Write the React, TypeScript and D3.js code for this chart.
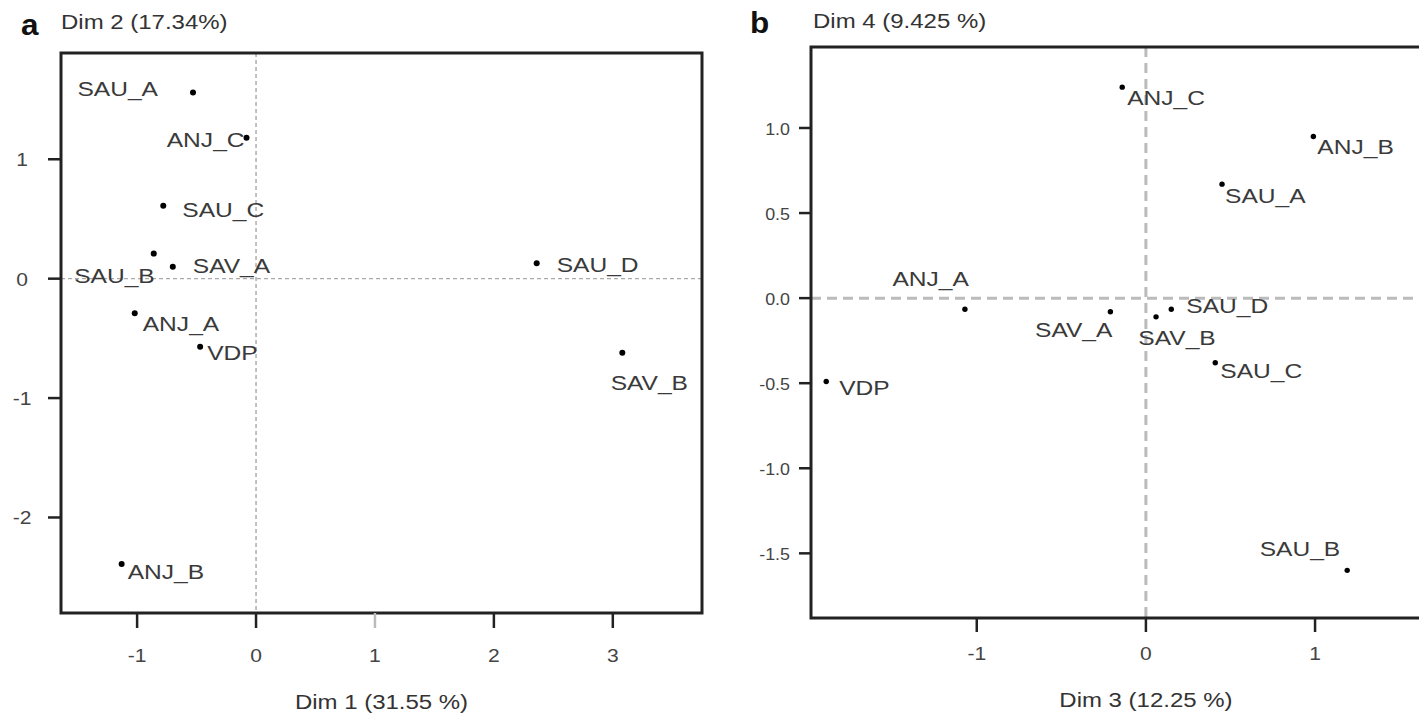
import React from "react";
import * as d3 from "d3";

// ---------- data ----------
const labelsA = ["SAU_A", "ANJ_C", "SAU_C", "SAU_B", "SAV_A", "ANJ_A", "VDP", "ANJ_B", "SAU_D", "SAV_B"];
const dim1 = [-0.53, -0.08, -0.78, -0.86, -0.7, -1.02, -0.47, -1.13, 2.36, 3.08];
const dim2 = [1.56, 1.18, 0.61, 0.21, 0.1, -0.29, -0.57, -2.39, 0.13, -0.62];

const labelsB = ["ANJ_C", "ANJ_B", "SAU_A", "SAU_D", "SAV_B", "SAV_A", "ANJ_A", "VDP", "SAU_C", "SAU_B"];
const dim3 = [-0.14, 0.99, 0.45, 0.15, 0.06, -0.21, -1.07, -1.89, 0.41, 1.19];
const dim4 = [1.24, 0.95, 0.67, -0.065, -0.11, -0.08, -0.065, -0.49, -0.38, -1.6];

const ticksAx = [-1, 0, 1, 2, 3];
const ticksAy = [1, 0, -1, -2];
const ticksBx = [-1, 0, 1];
const ticksBy = [1.0, 0.5, 0.0, -0.5, -1.0, -1.5];

// label placement (offset from the point, text anchor)
type Place = { dx: number; dy: number; anchor: "start" | "middle" | "end" };
const placeA: Place[] = [
  { dx: -35, dy: -4, anchor: "end" },
  { dx: -2, dy: 2, anchor: "end" },
  { dx: 19, dy: 4, anchor: "start" },
  { dx: 1, dy: 22, anchor: "end" },
  { dx: 20, dy: -1, anchor: "start" },
  { dx: 8, dy: 10, anchor: "start" },
  { dx: 7, dy: 6, anchor: "start" },
  { dx: 6, dy: 7, anchor: "start" },
  { dx: 20, dy: 1, anchor: "start" },
  { dx: 27, dy: 30, anchor: "middle" },
];
const placeB: Place[] = [
  { dx: 5, dy: 10, anchor: "start" },
  { dx: 4, dy: 10, anchor: "start" },
  { dx: 3, dy: 11, anchor: "start" },
  { dx: 15, dy: -4, anchor: "start" },
  { dx: 21, dy: 21, anchor: "middle" },
  { dx: 2, dy: 18, anchor: "end" },
  { dx: 4, dy: -31, anchor: "end" },
  { dx: 13, dy: 6, anchor: "start" },
  { dx: 5, dy: 8, anchor: "start" },
  { dx: -7, dy: -22, anchor: "end" },
];

const FONT = "'Liberation Sans', Arial, Helvetica, sans-serif";
const SX = 1.17;

function T(props: {
  x: number;
  y: number;
  size: number;
  anchor?: "start" | "middle" | "end";
  fill?: string;
  bold?: boolean;
  sx?: number;
  children: React.ReactNode;
}) {
  const { x, y, size, anchor = "start", fill = "#333", bold = false, sx = SX } = props;
  return (
    <g transform={`translate(${x},${y}) scale(${sx},1)`}>
      <text
        x={0}
        y={0}
        fontSize={size}
        fontFamily={FONT}
        fontWeight={bold ? "bold" : "normal"}
        textAnchor={anchor}
        fill={fill}
      >
        {props.children}
      </text>
    </g>
  );
}

export default function App() {
  // Panel a scales
  const xa = d3.scaleLinear().domain([-1.64, 3.75]).range([61, 702]);
  const ya = d3.scaleLinear().domain([-2.8, 1.89]).range([613, 53]);
  // Panel b scales (right side clipped by the page)
  const xb = d3.scaleLinear().domain([-1.98, 1.65]).range([811, 1425]);
  const yb = d3.scaleLinear().domain([-1.88, 1.476]).range([618, 47]);

  const LBL = 21;
  const TICK = 18;
  const TITLE = 20.5;
  const frame = "#222";

  return (
    <svg
      width={1419}
      height={714}
      style={{ position: "absolute", left: 0, top: 0, background: "#fff" }}
    >
      <rect x={0} y={0} width={1419} height={714} fill="#fff" />

      {/* ---------------- Panel a ---------------- */}
      <g>
        <line x1={xa(0)} x2={xa(0)} y1={ya.range()[1]} y2={ya.range()[0]} stroke="#999" strokeWidth={1.2} strokeDasharray="4,3" />
        <line x1={xa.range()[0]} x2={xa.range()[1]} y1={ya(0)} y2={ya(0)} stroke="#aaa" strokeWidth={1.2} strokeDasharray="4,3" />
        <rect
          x={xa.range()[0]}
          y={ya.range()[1]}
          width={xa.range()[1] - xa.range()[0]}
          height={ya.range()[0] - ya.range()[1]}
          fill="none"
          stroke={frame}
          strokeWidth={3}
        />
        {ticksAx.map((t) => (
          <g key={"ax" + t}>
            <line x1={xa(t)} x2={xa(t)} y1={ya.range()[0]} y2={ya.range()[0] + 15} stroke={t === 1 ? "#bbb" : frame} strokeWidth={2.5} />
            <T x={xa(t)} y={662} size={TICK} anchor="middle" fill="#444">
              {String(t)}
            </T>
          </g>
        ))}
        {ticksAy.map((t) => (
          <g key={"ay" + t}>
            <line x1={xa.range()[0] - 13} x2={xa.range()[0]} y1={ya(t)} y2={ya(t)} stroke={frame} strokeWidth={2.5} />
            <T x={22} y={ya(t) + 7} size={TICK} anchor="middle" fill="#444">
              {String(t)}
            </T>
          </g>
        ))}
        {labelsA.map((l, i) => (
          <g key={"pa" + l}>
            <circle cx={xa(dim1[i])} cy={ya(dim2[i])} r={3} fill="#000" />
            <T x={xa(dim1[i]) + placeA[i].dx} y={ya(dim2[i]) + placeA[i].dy + LBL * 0.36} size={LBL} anchor={placeA[i].anchor} fill="#3a3a3a">
              {l}
            </T>
          </g>
        ))}
        <T x={21} y={35} size={30} bold fill="#111" sx={1.05}>
          a
        </T>
        <T x={61} y={29} size={TITLE} fill="#333">
          Dim 2 (17.34%)
        </T>
        <T x={(xa.range()[0] + xa.range()[1]) / 2} y={709} size={TITLE} anchor="middle" fill="#333">
          Dim 1 (31.55 %)
        </T>
      </g>

      {/* ---------------- Panel b ---------------- */}
      <g>
        <line x1={xb(0)} x2={xb(0)} y1={yb.range()[1]} y2={yb.range()[0]} stroke="#bbb" strokeWidth={3} strokeDasharray="10,6" />
        <line x1={xb.range()[0]} x2={xb.range()[1]} y1={yb(0)} y2={yb(0)} stroke="#bbb" strokeWidth={3} strokeDasharray="10,6" />
        <rect
          x={xb.range()[0]}
          y={yb.range()[1]}
          width={xb.range()[1] - xb.range()[0]}
          height={yb.range()[0] - yb.range()[1]}
          fill="none"
          stroke={frame}
          strokeWidth={3}
        />
        {ticksBx.map((t) => (
          <g key={"bx" + t}>
            <line x1={xb(t)} x2={xb(t)} y1={yb.range()[0]} y2={yb.range()[0] + 14} stroke={frame} strokeWidth={2.5} />
            <T x={xb(t)} y={660} size={TICK} anchor="middle" fill="#444">
              {String(t)}
            </T>
          </g>
        ))}
        {ticksBy.map((t) => (
          <g key={"by" + t}>
            <line x1={xb.range()[0] - 12} x2={xb.range()[0]} y1={yb(t)} y2={yb(t)} stroke={frame} strokeWidth={2.5} />
            <T x={790} y={yb(t) + 7} size={TICK - 1} anchor="end" fill="#444" sx={1.05}>
              {t.toFixed(1)}
            </T>
          </g>
        ))}
        {labelsB.map((l, i) => (
          <g key={"pb" + l}>
            <circle cx={xb(dim3[i])} cy={yb(dim4[i])} r={2.7} fill="#000" />
            <T x={xb(dim3[i]) + placeB[i].dx} y={yb(dim4[i]) + placeB[i].dy + LBL * 0.36} size={LBL} anchor={placeB[i].anchor} fill="#3a3a3a">
              {l}
            </T>
          </g>
        ))}
        <T x={750} y={33} size={30} bold fill="#111" sx={1.05}>
          b
        </T>
        <T x={813} y={28} size={TITLE} fill="#333">
          Dim 4 (9.425 %)
        </T>
        <T x={xb(0)} y={707} size={TITLE} anchor="middle" fill="#333">
          Dim 3 (12.25 %)
        </T>
      </g>
    </svg>
  );
}
